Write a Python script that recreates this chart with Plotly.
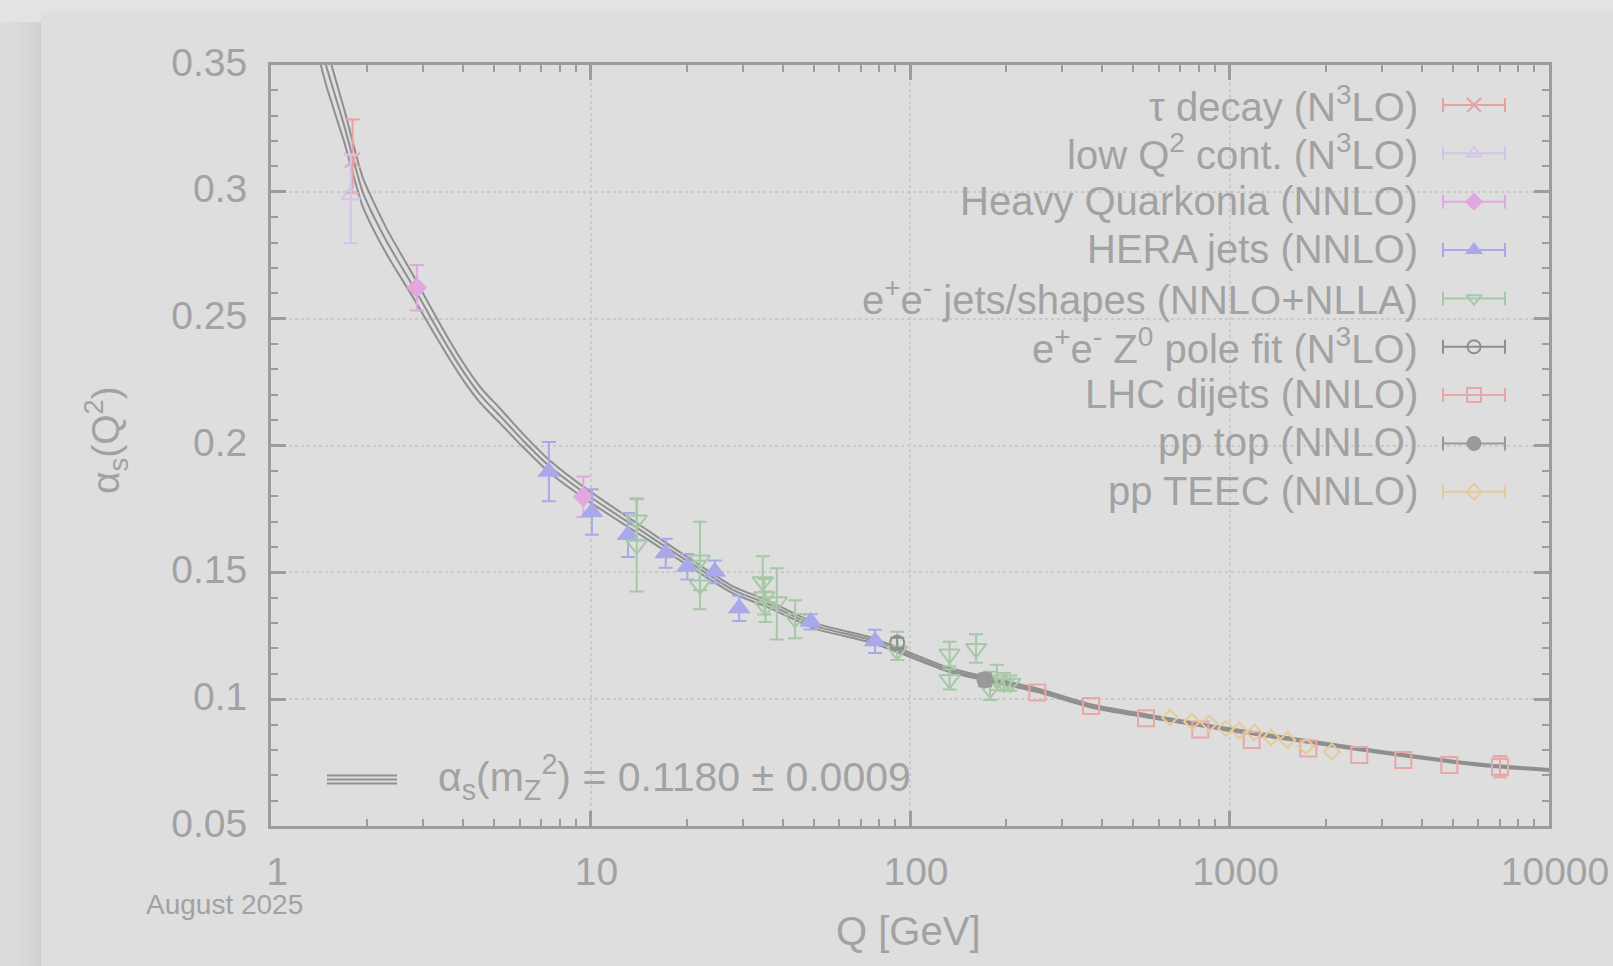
import plotly.graph_objects as go

# ---------------- data ----------------
tau_Q = [1.80]
tau_a = [0.3125]
tau_ep = [0.016]
tau_em = [0.013]

lowq_Q = [1.776]
lowq_a = [0.2987]
lowq_ep = [0.016]
lowq_em = [0.019]

hq_Q = [2.86, 9.5]
hq_a = [0.2622, 0.1798]
hq_e = [0.009, 0.008]

hera_Q = [7.41, 10.1, 13.1, 17.2, 20.1, 24.5, 29.2, 48.9, 77.7]
hera_a = [0.1897, 0.1738, 0.1647, 0.1575, 0.1522, 0.1502, 0.1358, 0.1305, 0.1228]
hera_e = [0.0117, 0.0090, 0.0087, 0.0057, 0.0050, 0.0045, 0.0050, 0.0030, 0.0046]

ee_Q = [13.95, 13.95, 22.0, 22.0, 34.6, 35.0, 35.3, 38.3, 43.7, 91.2, 133, 133, 161, 178, 187, 197, 206]
ee_a = [0.1706, 0.1608, 0.1549, 0.1450, 0.1463, 0.1404, 0.1364, 0.1384, 0.1318, 0.1190,
        0.1178, 0.1078, 0.1200, 0.1040, 0.1076, 0.1063, 0.1063]
ee_ep = [0.0086, 0.0180, 0.0150, 0.0096, 0.0100, 0.0070, 0.0060, 0.0132, 0.0072, 0.0076,
         0.0048, 0.0040, 0.0056, 0.0068, 0.0060, 0.0040, 0.0030]
ee_em = [0.0080, 0.0184, 0.0120, 0.0096, 0.0080, 0.0070, 0.0060, 0.0149, 0.0078, 0.0036,
         0.0048, 0.0040, 0.0056, 0.0043, 0.0040, 0.0030, 0.0030]

z0_Q = [91.2]
z0_a = [0.1222]
z0_e = [0.0020]

lhc_Q = [250.4, 368.6, 548, 810, 1173, 1765, 2549, 3500, 4875, 7025]
lhc_a = [0.1026, 0.0973, 0.0925, 0.0880, 0.0839, 0.0806, 0.0780, 0.0760, 0.0740, 0.0734]
lhc_e = [0, 0, 0, 0, 0, 0, 0, 0, 0, 0.0042]

top_Q = [171.7]
top_a = [0.1076]
top_e = [0.0025]

teec_Q = [651.5, 763, 865, 975, 1073, 1196, 1349, 1517, 1736, 2089]
teec_a = [0.0928, 0.0911, 0.0904, 0.0885, 0.0876, 0.0868, 0.0849, 0.0839, 0.0815, 0.0793]

# running coupling band (central line and half-width)
curve_Q = [1.42, 1.486, 1.6, 1.7, 1.936, 2.3, 2.79, 3.16, 3.63, 4.0, 4.48, 4.70, 5.21, 6.2,
           7.47, 9.96, 15.36, 19.5, 28, 35.5, 51.3, 73.2, 91.2, 133, 249, 370, 551, 1000,
           1786, 3440, 6250, 10000]
curve_mid = [0.360, 0.350, 0.3365, 0.3255, 0.300, 0.2805, 0.2626, 0.2505, 0.2375, 0.2291,
             0.2205, 0.2175, 0.2117, 0.2015, 0.1916, 0.1798, 0.1641, 0.1555, 0.1430, 0.1378,
             0.1286, 0.1238, 0.1195, 0.1115, 0.1036, 0.0973, 0.0934, 0.0880, 0.0832, 0.0780,
             0.0740, 0.0721]
curve_hw = [0.0082, 0.0077, 0.0070, 0.0064, 0.0057, 0.0050, 0.0044, 0.0040, 0.0036, 0.0034,
            0.0031, 0.0030, 0.0029, 0.0026, 0.0024, 0.0021, 0.0018, 0.0016, 0.0014, 0.0013,
            0.0011, 0.0010, 0.0009, 0.0008, 0.0007, 0.00065, 0.0006, 0.00055, 0.0005,
            0.00045, 0.0004, 0.00038]

x_ticks = [1, 10, 100, 1000, 10000]
x_ticktext = ["1", "10", "100", "1000", "10000"]
y_ticks = [0.05, 0.1, 0.15, 0.2, 0.25, 0.3, 0.35]
y_ticktext = ["0.05", "0.1", "0.15", "0.2", "0.25", "0.3", "0.35"]

legend_names = [
    "τ decay (N<sup>3</sup>LO)",
    "low Q<sup>2</sup> cont. (N<sup>3</sup>LO)",
    "Heavy Quarkonia (NNLO)",
    "HERA jets (NNLO)",
    "e<sup>+</sup>e<sup>-</sup> jets/shapes (NNLO+NLLA)",
    "e<sup>+</sup>e<sup>-</sup> Z<sup>0</sup> pole fit (N<sup>3</sup>LO)",
    "LHC dijets (NNLO)",
    "pp top (NNLO)",
    "pp TEEC (NNLO)",
]
band_label = "α<sub>s</sub>(m<sub>Z</sub><sup>2</sup>) = 0.1180 ± 0.0009"

# ---------------- style ----------------
W, H = 1613, 966
L, R, T, B = 271, 1549, 65, 826
FONT = "Liberation Sans, Arial, sans-serif"
TXT = "#a2a2a2"
AX = "#9c9c9c"
CURVE = "#8f8f8f"
BG = "#dedede"

C_TAU = "#e6a2a2"
C_LOWQ = "#d3c4e8"
C_HQ = "#e2a6e2"
C_HERA = "#a9a9e9"
C_EE = "#a6c8a6"
C_Z0 = "#8e8e8e"
C_LHC = "#e8a6a6"
C_TOP = "#999999"
C_TEEC = "#e6ca98"

# colour, symbol, plot size, line width, legend size
styles = [
    (C_TAU, "x-thin", 15, 2, 14),
    (C_LOWQ, "triangle-up-open", 16, 2, 13),
    (C_HQ, "diamond", 16, 0, 14),
    (C_HERA, "triangle-up", 20, 0, 16),
    (C_EE, "triangle-down-open", 18, 2, 13),
    (C_Z0, "circle-open", 14, 2, 13),
    (C_LHC, "square-open", 16, 2, 14),
    (C_TOP, "circle", 17, 0, 15),
    (C_TEEC, "diamond-open", 12, 2, 12),
]


def px_x(px):
    return (px - L) / (R - L)


def px_y(py):
    return (B - py) / (B - T)


fig = go.Figure()

# band: three lines
lo = [m - h for m, h in zip(curve_mid, curve_hw)]
hi = [m + h for m, h in zip(curve_mid, curve_hw)]
for ys in (lo, curve_mid, hi):
    fig.add_trace(go.Scatter(x=curve_Q, y=ys, mode="lines",
                             line=dict(color=CURVE, width=2, shape="spline", smoothing=0.6),
                             hoverinfo="skip", showlegend=False))


def err(arr, arrm=None, w=7):
    d = dict(type="data", array=arr, thickness=2, width=w, visible=True)
    if arrm is not None:
        d["symmetric"] = False
        d["arrayminus"] = arrm
    return d


def mk(color, sym, size, lw):
    return dict(color=color, symbol=sym, size=size, line=dict(color=color, width=lw))


series = [
    (tau_Q, tau_a, err(tau_ep, tau_em), 0),
    (lowq_Q, lowq_a, err(lowq_ep, lowq_em), 1),
    (hq_Q, hq_a, err(hq_e), 2),
    (hera_Q, hera_a, err(hera_e), 3),
    (ee_Q, ee_a, err(ee_ep, ee_em), 4),
    (z0_Q, z0_a, err(z0_e), 5),
    (top_Q, top_a, err(top_e), 7),
]

for xs, ys, ed, k in series:
    c, s, sz, lw, _ = styles[k]
    ed["color"] = c
    fig.add_trace(go.Scatter(x=xs, y=ys, mode="markers", marker=mk(c, s, sz, lw),
                             error_y=ed, showlegend=False))

# LHC dijets: error bars only where visible
lhc_eq = [q for q, e in zip(lhc_Q, lhc_e) if e > 0]
lhc_ea = [a for a, e in zip(lhc_a, lhc_e) if e > 0]
lhc_ee = [e for e in lhc_e if e > 0]
c, s, sz, lw, _ = styles[6]
e6 = err(lhc_ee)
e6["color"] = c
fig.add_trace(go.Scatter(x=lhc_eq, y=lhc_ea, mode="markers", marker=mk(c, s, sz, lw),
                         error_y=e6, showlegend=False))
fig.add_trace(go.Scatter(x=lhc_Q, y=lhc_a, mode="markers", marker=mk(c, s, sz, lw),
                         showlegend=False))
c, s, sz, lw, _ = styles[8]
fig.add_trace(go.Scatter(x=teec_Q, y=teec_a, mode="markers", marker=mk(c, s, sz, lw),
                         showlegend=False))

# ---------------- manual legend (pixel overlay axes) ----------------
row0, drow = 104, 48.35
sample_x, sample_half = 1474, 31
annotations = []
for i, name in enumerate(legend_names):
    yy = row0 + i * drow
    c, s, sz, lw, lsz = styles[i]
    fig.add_trace(go.Scatter(x=[sample_x], y=[yy + 1], xaxis="x2", yaxis="y2", mode="markers",
                             marker=mk(c, s, lsz, lw),
                             error_x=dict(type="data", array=[sample_half], color=c,
                                          thickness=2, width=7),
                             showlegend=False, hoverinfo="skip"))
    annotations.append(dict(x=1420, y=yy, xref="x2", yref="y2", text=name, showarrow=False,
                            xanchor="right", yanchor="middle",
                            font=dict(family=FONT, size=40, color=TXT)))

# band legend (bottom left)
shapes = []
for yy in (775.5, 779.5, 783.5):
    shapes.append(dict(type="line", xref="x2", yref="y2", x0=327, x1=397, y0=yy, y1=yy,
                       line=dict(color=CURVE, width=2)))
annotations.append(dict(x=436, y=777, xref="x2", yref="y2", text=band_label, showarrow=False,
                        xanchor="left", yanchor="middle",
                        font=dict(family=FONT, size=41, color=TXT)))

# axis titles and date (outside plot area -> paper coordinates)
annotations.append(dict(x=px_x(908), y=px_y(931), xref="paper", yref="paper", text="Q [GeV]",
                        showarrow=False, xanchor="center", yanchor="middle",
                        font=dict(family=FONT, size=40, color=TXT)))
annotations.append(dict(x=px_x(106), y=px_y(440), xref="paper", yref="paper",
                        text="α<sub>s</sub>(Q<sup>2</sup>)",
                        showarrow=False, textangle=-90, xanchor="center", yanchor="middle",
                        font=dict(family=FONT, size=39, color=TXT)))
annotations.append(dict(x=px_x(224), y=px_y(904), xref="paper", yref="paper", text="August 2025",
                        showarrow=False, xanchor="center", yanchor="middle",
                        font=dict(family=FONT, size=28, color=TXT)))

# background panel + left shadow
bg_shapes = []
n = 41
for i in range(n):
    t = i / (n - 1)
    g = int(round(220 - 12 * t ** 2))
    col = "#%02x%02x%02x" % (g, g, g)
    bg_shapes.append(dict(type="rect", xref="paper", yref="paper", layer="below",
                          x0=px_x(i), x1=px_x(i + 1.2), y0=px_y(H), y1=px_y(22),
                          fillcolor=col, line=dict(width=0)))
bg_shapes.append(dict(type="rect", xref="paper", yref="paper", layer="below",
                      x0=px_x(41), x1=px_x(W), y0=px_y(H), y1=px_y(12),
                      fillcolor=BG, line=dict(width=0)))

minor_x = [m * 10 ** d for d in range(4) for m in range(2, 10)]

fig.update_layout(
    width=W, height=H,
    margin=dict(l=L, r=W - R, t=T, b=H - B, autoexpand=False),
    paper_bgcolor="#e3e3e3",
    plot_bgcolor=BG,
    font=dict(family=FONT, color=TXT),
    showlegend=False,
    xaxis=dict(type="log", range=[0, 4], tickmode="array", tickvals=x_ticks, ticktext=x_ticktext,
               ticks="inside", ticklen=15, tickwidth=2.5, tickcolor=AX,
               showline=True, linecolor=AX, linewidth=3, mirror="allticks",
               showgrid=True, gridcolor="#c9c9c9", griddash="dot", gridwidth=1.5,
               zeroline=False, tickfont=dict(family=FONT, size=39, color=TXT),
               ticklabelstandoff=9, ticklabelshift=6, automargin=False,
               minor=dict(ticks="inside", ticklen=7, tickwidth=2, tickcolor=AX,
                          tickmode="array", tickvals=minor_x, showgrid=False)),
    yaxis=dict(range=[0.05, 0.35], tickmode="array", tickvals=y_ticks, ticktext=y_ticktext,
               ticks="inside", ticklen=15, tickwidth=2.5, tickcolor=AX,
               showline=True, linecolor=AX, linewidth=3, mirror="allticks",
               showgrid=True, gridcolor="#c9c9c9", griddash="dot", gridwidth=1.5,
               zeroline=False, tickfont=dict(family=FONT, size=39, color=TXT),
               ticklabelstandoff=13, ticklabelshift=-3, automargin=False,
               minor=dict(ticks="inside", ticklen=7, tickwidth=2, tickcolor=AX,
                          dtick=0.01, tick0=0.05, showgrid=False)),
    xaxis2=dict(overlaying="x", range=[L, R], visible=False, anchor="y2", fixedrange=True,
                automargin=False),
    yaxis2=dict(overlaying="y", range=[B, T], visible=False, anchor="x2", fixedrange=True,
                automargin=False),
    shapes=bg_shapes + shapes,
    annotations=annotations,
)

fig.write_html("out.html")
